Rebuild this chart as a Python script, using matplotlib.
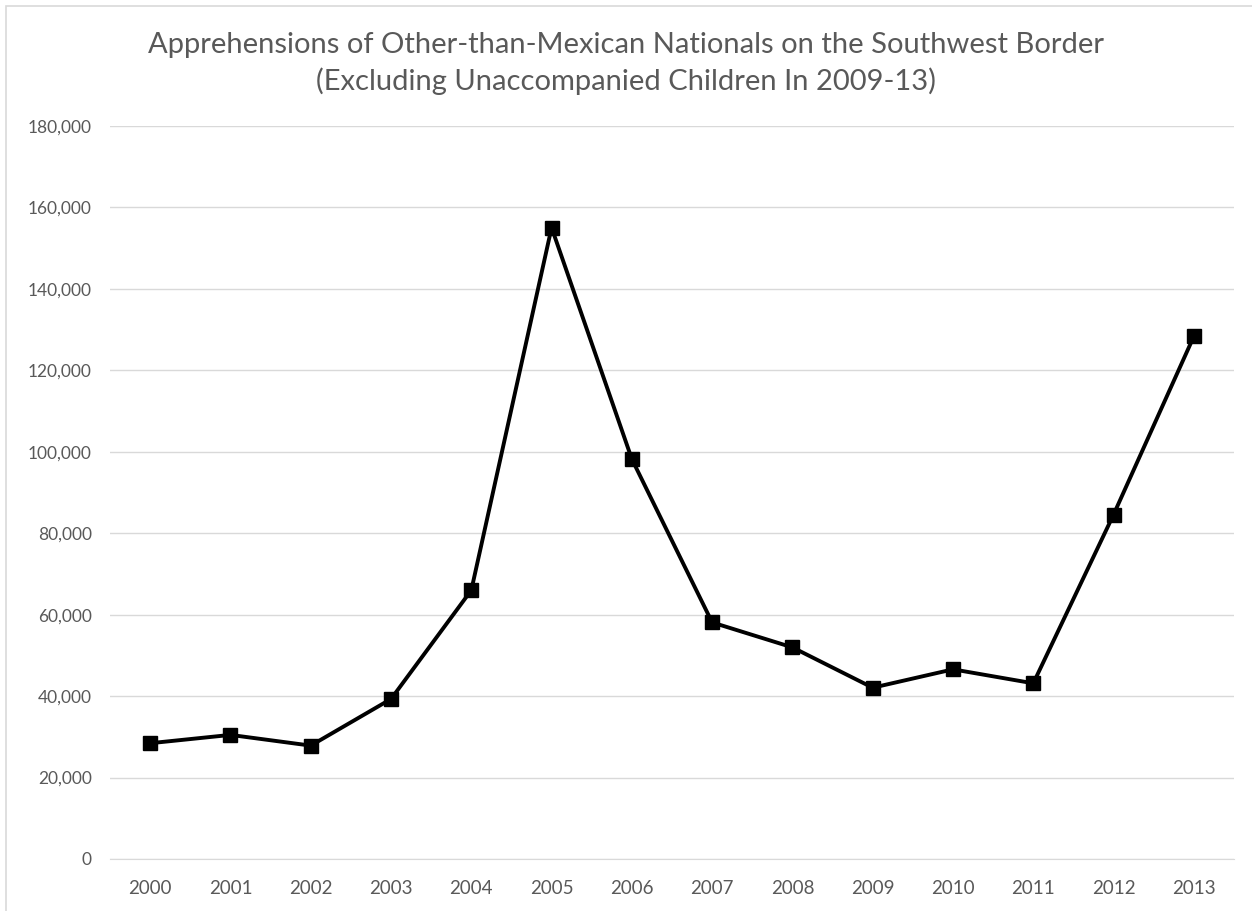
import matplotlib.pyplot as plt
from matplotlib.patches import Rectangle
from matplotlib.ticker import FuncFormatter

plt.rcParams['font.family'] = ['Lato', 'DejaVu Sans']

years = ['2000', '2001', '2002', '2003', '2004', '2005', '2006',
         '2007', '2008', '2009', '2010', '2011', '2012', '2013']
apprehensions = [28430, 30470, 27840, 39290, 66000, 155050, 98190,
                 58090, 51960, 42060, 46570, 43140, 84560, 128330]
y_ticks = [0, 20000, 40000, 60000, 80000, 100000, 120000, 140000, 160000, 180000]

fig = plt.figure(figsize=(12.52, 9.11), dpi=100)
ax = fig.add_axes([0.0879, 0.0571, 0.8977, 0.8046])

x = range(len(years))
ax.plot(x, apprehensions, color='black', linewidth=2.8, marker='s',
        markersize=10, markerfacecolor='black', markeredgecolor='black', zorder=3)

ax.set_xlim(-0.5, len(years) - 0.5)
ax.set_ylim(0, 180000)
ax.set_yticks(y_ticks)
ax.yaxis.set_major_formatter(FuncFormatter(lambda v, p: f'{int(v):,}'))
ax.set_xticks(list(x))
ax.set_xticklabels(years)
ax.grid(axis='y', color='#d9d9d9', linewidth=1)
ax.set_axisbelow(True)
for s in ['top', 'right', 'left']:
    ax.spines[s].set_visible(False)
ax.spines['bottom'].set_color('#d9d9d9')
ax.tick_params(axis='both', length=0, labelsize=13.5, colors='#595959')
ax.tick_params(axis='y', labelsize=12.5, pad=13)
ax.tick_params(axis='x', pad=15)

fig.text(0.5, 0.951, 'Apprehensions of Other-than-Mexican Nationals on the Southwest Border',
         ha='center', va='center', fontsize=21, color='#595959')
fig.text(0.5, 0.911, '(Excluding Unaccompanied Children In 2009-13)',
         ha='center', va='center', fontsize=21, color='#595959')

fig.patches.append(Rectangle((0.005, -0.01), 1.1, 1.0035, transform=fig.transFigure,
                             fill=False, edgecolor='#d9d9d9', linewidth=1.2))

plt.savefig('out.png', dpi=100)
